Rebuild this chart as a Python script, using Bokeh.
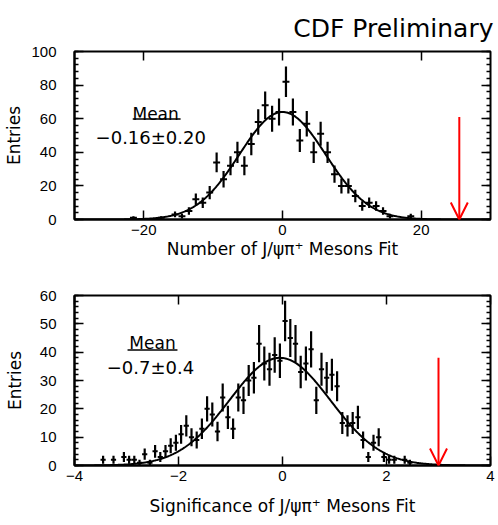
import numpy as np
from bokeh.plotting import figure
from bokeh.layouts import column
from bokeh.models import (Range1d, SingleIntervalTicker, LinearAxis, Label,
                          Arrow, OpenHead, ColumnDataSource)
from bokeh.embed import file_html
from bokeh.resources import INLINE

# ---------------- data: top panel (number of J/psi pi+ mesons fit) -------------
top_centers = [-21.5, -17.5, -15.5, -14.5, -13.5, -12.5, -11.5, -10.5, -9.5, -8.5,
               -7.5, -6.5, -5.5, -4.5, -3.5, -2.5, -1.5, -0.5, 0.5, 1.5,
               2.5, 3.5, 4.5, 5.5, 6.5, 7.5, 8.5, 9.5, 10.5, 11.5,
               12.5, 13.5, 14.5, 15.5, 18.5]
top_counts = [1, 1, 3, 2, 5, 12, 10, 16, 34, 24,
              32, 40, 32, 45, 58, 68, 60, 64, 82, 64,
              47, 57, 40, 51, 40, 27, 20, 20, 14, 8,
              10, 8, 5, 2, 2]
top_bin_width = 1.0
top_fit_amp, top_fit_mean, top_fit_sigma = 64.0, 0.0, 6.2
top_mean_text = "\u22120.16\u00b10.20"
top_observed = 25.5
top_arrow_from = 61

# ---------------- data: bottom panel (significance) -------------
bot_centers = [-3.45, -3.25, -3.05, -2.95, -2.85, -2.75, -2.65, -2.55,
               -2.45, -2.35, -2.25, -2.15, -2.05, -1.95, -1.85, -1.75, -1.65, -1.55,
               -1.45, -1.35, -1.25, -1.15, -1.05, -0.95, -0.85, -0.75, -0.65, -0.55,
               -0.45, -0.35, -0.25, -0.15, -0.05,
               0.05, 0.15, 0.25, 0.35, 0.45, 0.55, 0.65, 0.75, 0.85, 0.95, 1.05,
               1.15, 1.25, 1.35, 1.45, 1.55, 1.65, 1.75, 1.85, 1.95, 2.05, 2.15,
               2.35, 2.45]
bot_counts = [2, 2, 3, 2, 2, 1, 4, 1,
              5, 3, 5, 7, 8, 11, 14, 10, 9, 13,
              20, 18, 12, 24, 17, 13, 24, 23, 30, 31,
              43, 36, 34, 39, 37,
              51, 45, 43, 33, 36, 41, 23, 34, 31, 32, 28,
              15, 14, 15, 17, 9, 3, 8, 10, 3, 2, 2,
              2, 1]
bot_bin_width = 0.1
bot_fit_amp, bot_fit_mean, bot_fit_sigma = 38.0, -0.05, 0.97
bot_mean_text = "\u22120.7\u00b10.4"
bot_observed = 3.0
bot_arrow_from = 38

TITLE_TEXT = "CDF Preliminary"
TICK_FONT = "Liberation Sans"
TEXT_FONT = "DejaVu Sans"


def mirror_axis(interval, n_minor):
    return LinearAxis(ticker=SingleIntervalTicker(interval=interval, num_minor_ticks=n_minor),
                      major_label_text_color=None, major_label_text_alpha=0,
                      major_label_text_font_size="1px", major_label_standoff=0,
                      major_tick_in=9, major_tick_out=0,
                      minor_tick_in=4 if n_minor else 0, minor_tick_out=0,
                      axis_line_color=None,
                      major_tick_line_width=1.5, minor_tick_line_width=1.5)


def make_panel(centers, counts, bw, amp, mu, sig, xr, yr, xint, yint,
               frame_h, border_top, border_bottom, xlabel, ylabel_standoff,
               xlabel_standoff, mean_pos, val_pos, underline, mean_text,
               observed, arrow_from):
    p = figure(frame_width=416, frame_height=frame_h,
               x_range=Range1d(*xr), y_range=Range1d(*yr),
               min_border_left=74, min_border_right=8,
               min_border_top=border_top, min_border_bottom=border_bottom,
               output_backend="svg", toolbar_location=None,
               background_fill_color="white", border_fill_color="white")
    p.grid.visible = False
    p.outline_line_color = "black"
    p.outline_line_width = 2

    # axes
    p.xaxis.ticker = SingleIntervalTicker(interval=xint, num_minor_ticks=0)
    p.yaxis.ticker = SingleIntervalTicker(interval=yint, num_minor_ticks=5)
    for ax in p.xaxis + p.yaxis:
        ax.axis_line_width = 2
        ax.major_tick_in = 9
        ax.major_tick_out = 0
        ax.minor_tick_in = 4
        ax.minor_tick_out = 0
        ax.major_tick_line_width = 1.5
        ax.minor_tick_line_width = 1.5
        ax.major_label_text_font = TICK_FONT
        ax.major_label_text_font_size = "15px"
        ax.major_label_text_color = "black"
        ax.axis_label_text_font = TEXT_FONT
        ax.axis_label_text_font_size = "17px"
        ax.axis_label_text_font_style = "normal"
        ax.axis_label_text_color = "black"
    p.xaxis.major_label_standoff = 5
    p.yaxis.major_label_standoff = 18
    p.xaxis.axis_label = xlabel
    p.yaxis.axis_label = "Entries"
    p.xaxis.axis_label_standoff = xlabel_standoff
    p.yaxis.axis_label_standoff = ylabel_standoff

    # mirrored ticks on top/right
    p.add_layout(mirror_axis(xint, 0), "above")
    p.add_layout(mirror_axis(yint, 5), "right")

    # fit curve
    xs = np.linspace(xr[0], xr[1], 600)
    ys = amp * np.exp(-0.5 * ((xs - mu) / sig) ** 2)
    p.line(xs, ys, line_color="black", line_width=2)

    # data points with error bars
    c = np.array(centers, dtype=float)
    n = np.array(counts, dtype=float)
    err = np.sqrt(n)
    src = ColumnDataSource(dict(x=c, y=n, lo=n - err, hi=n + err,
                                xl=c - bw / 2, xh=c + bw / 2))
    p.segment(x0="x", y0="lo", x1="x", y1="hi", source=src,
              line_color="black", line_width=2.2)
    p.segment(x0="xl", y0="y", x1="xh", y1="y", source=src,
              line_color="black", line_width=2)

    # mean text
    p.add_layout(Label(x=mean_pos[0], y=mean_pos[1], text="Mean",
                       text_align="center", text_baseline="middle",
                       text_font=TEXT_FONT, text_font_size="17px",
                       text_color="black"))
    p.add_layout(Arrow(end=None, x_start=underline[0], x_end=underline[1],
                       y_start=underline[2], y_end=underline[2],
                       line_color="black", line_width=1.5))
    p.add_layout(Label(x=val_pos[0], y=val_pos[1], text=mean_text,
                       text_align="center", text_baseline="middle",
                       text_font=TEXT_FONT, text_font_size="18px",
                       text_color="black"))

    # observed value arrow
    p.add_layout(Arrow(end=OpenHead(size=17, line_color="red", line_width=2),
                       x_start=observed, y_start=arrow_from,
                       x_end=observed, y_end=0,
                       line_color="red", line_width=2))
    return p


p1 = make_panel(top_centers, top_counts, top_bin_width,
                top_fit_amp, top_fit_mean, top_fit_sigma,
                (-30, 30), (0, 100), 20, 20, 168, 51, 51,
                "Number of J/\u03c8\u03c0\u207a Mesons Fit", 4, 1,
                (-18.3, 63.0), (-19.0, 48.9), (-21.6, -14.7, 59.8),
                top_mean_text, top_observed, top_arrow_from)
p1.title.text = TITLE_TEXT
p1.title.align = "right"
p1.title.text_font = TEXT_FONT
p1.title.text_font_size = "25px"
p1.title.text_font_style = "normal"
p1.title.text_color = "black"
p1.title.offset = -3
p1.title.standoff = 17

p2 = make_panel(bot_centers, bot_counts, bot_bin_width,
                bot_fit_amp, bot_fit_mean, bot_fit_sigma,
                (-4, 4), (0, 60), 2, 10, 170, 25, 60,
                "Significance of J/\u03c8\u03c0\u207a Mesons Fit", 12, 12,
                (-2.5, 43.4), (-2.54, 34.6), (-2.98, -2.02, 40.8),
                bot_mean_text, bot_observed, bot_arrow_from)

layout = column(p1, p2, spacing=0)
open("out.html", "w").write(file_html(layout, INLINE))
